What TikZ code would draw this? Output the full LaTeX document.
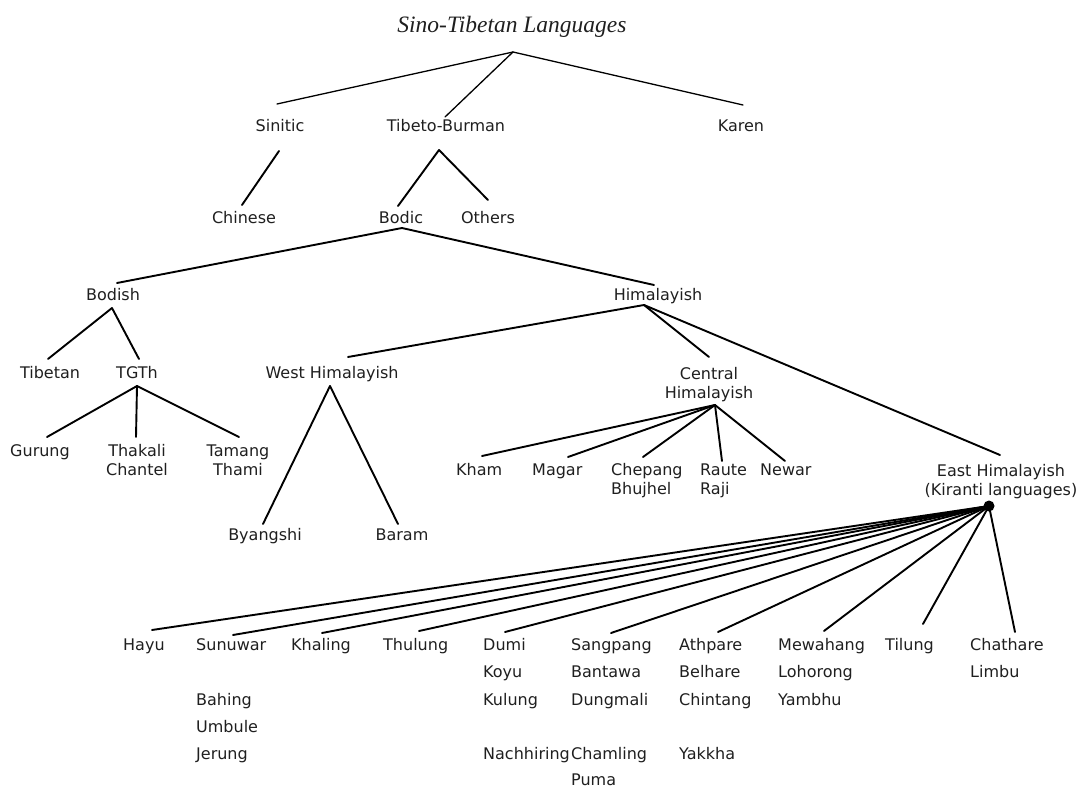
\documentclass[tikz,border=0pt]{standalone}
\usepackage{fontspec}
\setmainfont{DejaVu Sans}
\newfontfamily\titlefont{Liberation Serif}
\begin{document}
\begin{tikzpicture}[x=1pt,y=-1pt,
  lbl/.style={inner sep=0pt, text=black!88, font=\fontsize{16}{19}\selectfont, anchor=base},
  lbll/.style={lbl, anchor=base west},
  edge/.style={line width=1.9pt, line cap=round},
  topedge/.style={line width=1.3pt, line cap=round}]
\useasboundingbox (0,0) rectangle (1080,789);

% ---------- labels ----------
\node[inner sep=0pt, anchor=base, text=black!88, font=\titlefont\itshape\fontsize{23.5}{26}\selectfont] (title) at (512,33) {Sino-Tibetan Languages};

\node[lbl] (sinitic) at (280,132) {Sinitic};
\node[lbl] (tb) at (446,132) {Tibeto-Burman};
\node[lbl] (karen) at (741,132) {Karen};

\node[lbl] (chinese) at (244,223) {Chinese};
\node[lbl] (bodic) at (401,223) {Bodic};
\node[lbl] (others) at (488,223) {Others};

\node[lbl] (bodish) at (113,300) {Bodish};
\node[lbl] (himalayish) at (658,300) {Himalayish};

\node[lbl] (tibetan) at (50,378) {Tibetan};
\node[lbl] (tgth) at (137,378) {TGTh};
\node[lbl] (westh) at (332,378) {West Himalayish};
\node[lbl] (central1) at (709,379) {Central};
\node[lbl] (central2) at (709,398) {Himalayish};

\node[lbl] (gurung) at (40,456) {Gurung};
\node[lbl] (thakali) at (137,456) {Thakali};
\node[lbl] (chantel) at (137,475) {Chantel};
\node[lbl] (tamang) at (238,456) {Tamang};
\node[lbl] (thami) at (238,475) {Thami};

\node[lbll] (kham) at (456,475) {Kham};
\node[lbll] (magar) at (532,475) {Magar};
\node[lbll] (chepang) at (611,475) {Chepang};
\node[lbll] (bhujhel) at (611,494) {Bhujhel};
\node[lbll] (raute) at (700,475) {Raute};
\node[lbll] (raji) at (700,494) {Raji};
\node[lbll] (newar) at (760,475) {Newar};

\node[lbl] (east1) at (1001,476) {East Himalayish};
\node[lbl] (east2) at (1001,495) {(Kiranti languages)};

\node[lbl] (byangshi) at (265,540) {Byangshi};
\node[lbl] (baram) at (402,540) {Baram};

\node[lbll] (hayu) at (123,650) {Hayu};
\node[lbll] (sunuwar) at (196,650) {Sunuwar};
\node[lbll] (bahing) at (196,705) {Bahing};
\node[lbll] (umbule) at (196,732) {Umbule};
\node[lbll] (jerung) at (196,759) {Jerung};
\node[lbll] (khaling) at (291,650) {Khaling};
\node[lbll] (thulung) at (383,650) {Thulung};
\node[lbll] (dumi) at (483,650) {Dumi};
\node[lbll] (koyu) at (483,677.5) {Koyu};
\node[lbll] (kulung) at (483,705) {Kulung};
\node[lbll] (nachhiring) at (483,759) {Nachhiring};
\node[lbll] (sangpang) at (571,650) {Sangpang};
\node[lbll] (bantawa) at (571,677.5) {Bantawa};
\node[lbll] (dungmali) at (571,705) {Dungmali};
\node[lbll] (chamling) at (571,759) {Chamling};
\node[lbll] (puma) at (571,785.5) {Puma};
\node[lbll] (athpare) at (679,650) {Athpare};
\node[lbll] (belhare) at (679,677.5) {Belhare};
\node[lbll] (chintang) at (679,705) {Chintang};
\node[lbll] (yakkha) at (679,759) {Yakkha};
\node[lbll] (mewahang) at (778,650) {Mewahang};
\node[lbll] (lohorong) at (778,677.5) {Lohorong};
\node[lbll] (yambhu) at (778,705) {Yambhu};
\node[lbll] (tilung) at (885,650) {Tilung};
\node[lbll] (chathare) at (970,650) {Chathare};
\node[lbll] (limbu) at (970,677.5) {Limbu};

% ---------- connection points ----------
\coordinate (root) at (513,52);
\coordinate (sinitic-t) at (277,104);
\coordinate (tb-t) at (445,117);
\coordinate (karen-t) at (743,105);

\coordinate (sinitic-b) at (279,151);
\coordinate (chinese-t) at (242,205);
\coordinate (tb-b) at (439,150);
\coordinate (bodic-t) at (398,206);
\coordinate (others-t) at (488,200);

\coordinate (bodic-b) at (402,228);
\coordinate (bodish-t) at (117,283);
\coordinate (himalayish-t) at (654,285);

\coordinate (bodish-b) at (112,308);
\coordinate (tibetan-t) at (48,359);
\coordinate (tgth-t) at (139,359);

\coordinate (himalayish-b) at (644,305);
\coordinate (westh-t) at (348,357);
\coordinate (central-t) at (709,357);
\coordinate (east-t) at (1000,455);

\coordinate (tgth-b) at (137,386);
\coordinate (gurung-t) at (47,437);
\coordinate (thakali-t) at (136,437);
\coordinate (tamang-t) at (239,437);

\coordinate (westh-b) at (330,386);
\coordinate (byangshi-t) at (263,524);
\coordinate (baram-t) at (398,524);

\coordinate (central-b) at (715,405);
\coordinate (kham-t) at (482,456);
\coordinate (magar-t) at (568,457);
\coordinate (chepang-t) at (643,457);
\coordinate (raute-t) at (722,461);
\coordinate (newar-t) at (785,461);

\coordinate (kdot) at (989,506);
\coordinate (hayu-t) at (152,630);
\coordinate (sunuwar-t) at (233,635);
\coordinate (khaling-t) at (322,633);
\coordinate (thulung-t) at (419,631);
\coordinate (dumi-t) at (505,632);
\coordinate (sangpang-t) at (611,633);
\coordinate (athpare-t) at (718,632);
\coordinate (mewahang-t) at (824,631);
\coordinate (tilung-t) at (923,624);
\coordinate (chathare-t) at (1015,632);

% ---------- connectors ----------
\draw[topedge] (root) -- (sinitic-t);
\draw[topedge] (root) -- (tb-t);
\draw[topedge] (root) -- (karen-t);

\draw[edge] (sinitic-b) -- (chinese-t);
\draw[edge] (tb-b) -- (bodic-t);
\draw[edge] (tb-b) -- (others-t);

\draw[edge] (bodic-b) -- (bodish-t);
\draw[edge] (bodic-b) -- (himalayish-t);

\draw[edge] (bodish-b) -- (tibetan-t);
\draw[edge] (bodish-b) -- (tgth-t);

\draw[edge] (himalayish-b) -- (westh-t);
\draw[edge] (himalayish-b) -- (central-t);
\draw[edge] (himalayish-b) -- (east-t);

\draw[edge] (tgth-b) -- (gurung-t);
\draw[edge] (tgth-b) -- (thakali-t);
\draw[edge] (tgth-b) -- (tamang-t);

\draw[edge] (westh-b) -- (byangshi-t);
\draw[edge] (westh-b) -- (baram-t);

\draw[edge] (central-b) -- (kham-t);
\draw[edge] (central-b) -- (magar-t);
\draw[edge] (central-b) -- (chepang-t);
\draw[edge] (central-b) -- (raute-t);
\draw[edge] (central-b) -- (newar-t);

\foreach \t in {hayu,sunuwar,khaling,thulung,dumi,sangpang,athpare,mewahang,tilung,chathare}
  \draw[edge] (kdot) -- (\t-t);
\fill[black] (kdot) circle[radius=5.5pt];
\end{tikzpicture}
\end{document}
